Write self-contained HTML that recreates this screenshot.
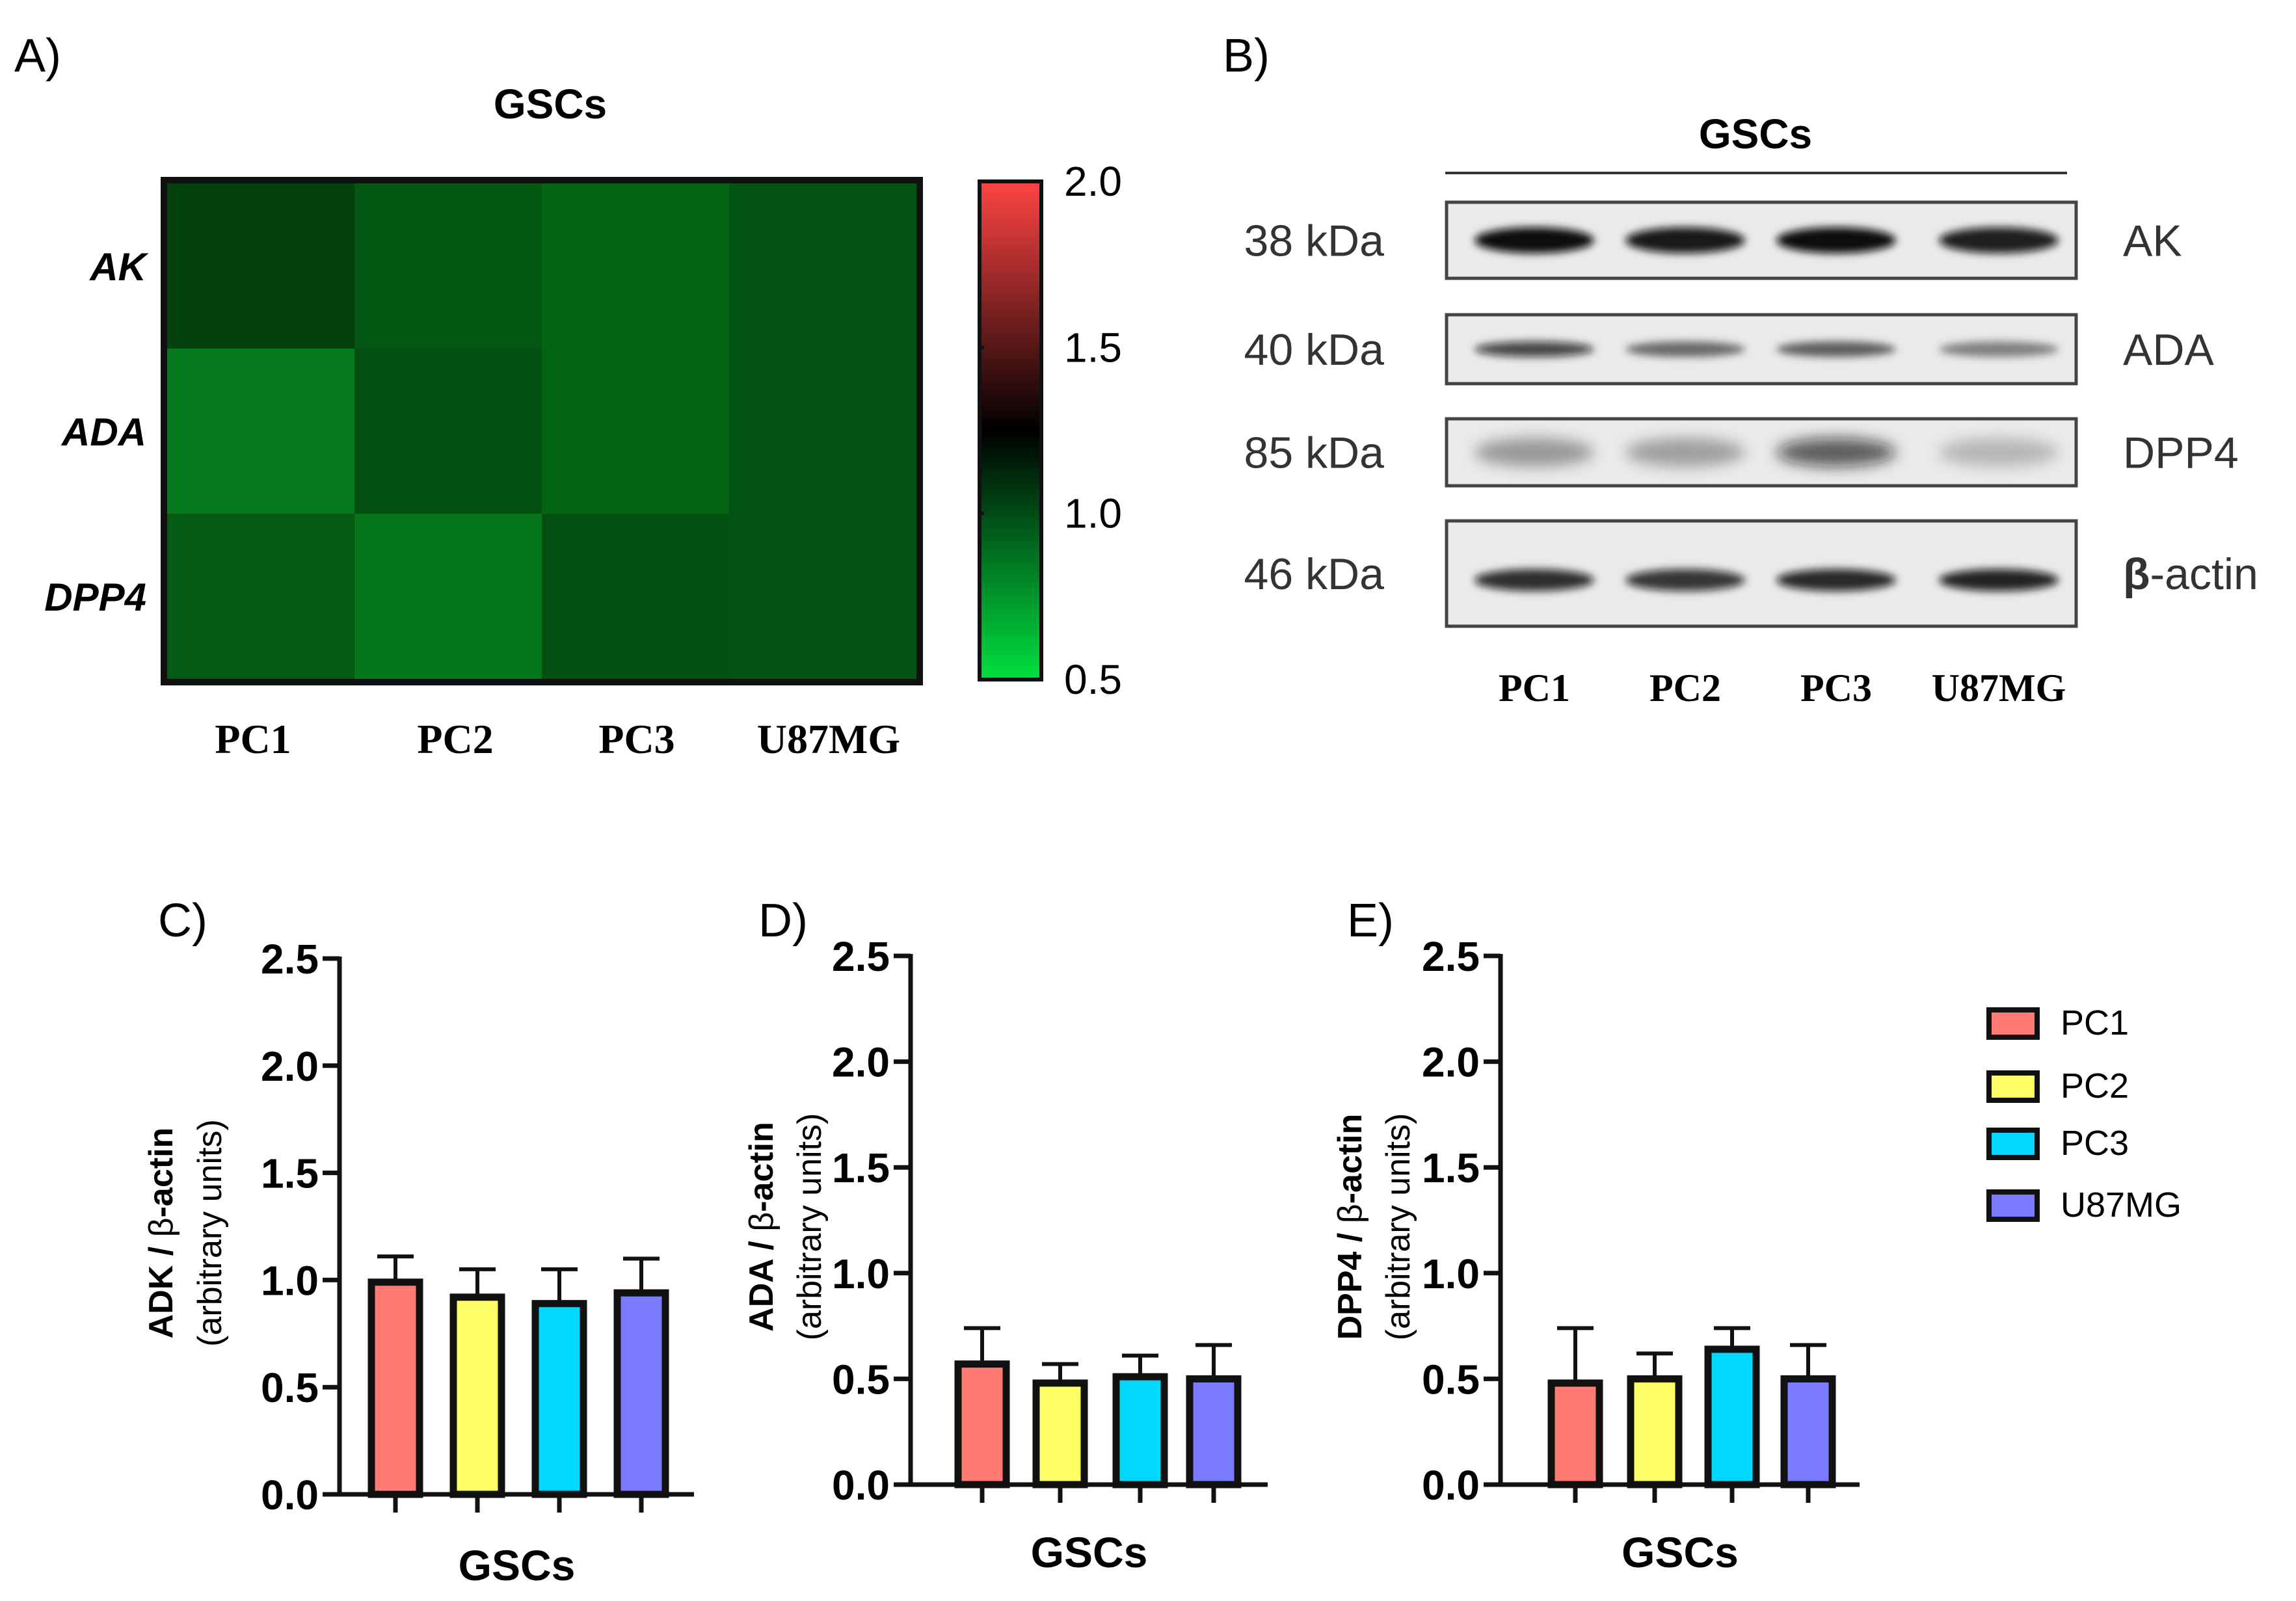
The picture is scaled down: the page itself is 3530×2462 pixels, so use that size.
<!DOCTYPE html>
<html><head><meta charset="utf-8"><style>html,body{margin:0;padding:0;background:#fff}svg{display:block}</style></head>
<body>
<svg id="fig" width="3530" height="2462" viewBox="0 0 3530 2462" xmlns="http://www.w3.org/2000/svg" font-family="Liberation Sans, sans-serif">
<defs>
<linearGradient id="cbar" x1="0" y1="1" x2="0" y2="0">
<stop offset="0" stop-color="#00e040"/><stop offset="0.5" stop-color="#000"/><stop offset="1" stop-color="#f44"/>
</linearGradient>
<filter id="blur" x="-20%" y="-100%" width="140%" height="300%"><feGaussianBlur stdDeviation="6"/></filter>
<filter id="blur2" x="-20%" y="-100%" width="140%" height="300%"><feGaussianBlur stdDeviation="11"/></filter>
</defs>
<g id="panelA">
<text x="22" y="110" font-size="72">A)</text>
<text x="846" y="182" font-size="64" font-weight="bold" text-anchor="middle">GSCs</text>
<g id="hm"></g>
<rect x="252" y="277" width="1162" height="772" fill="none" stroke="#111" stroke-width="10"/>
<rect x="1506" y="279" width="95" height="766" fill="url(#cbar)" stroke="#111" stroke-width="6"/>
<g id="cbticks"></g>
</g>
<g id="panelB">
<text x="1880" y="110" font-size="72">B)</text>
<text x="2699" y="228" font-size="64" font-weight="bold" text-anchor="middle">GSCs</text>
<line x1="2222" y1="266" x2="3178" y2="266" stroke="#333" stroke-width="4"/>
<g id="blot"></g>
</g>
<g id="bars"></g>
<g id="legend"></g>
</svg>
<script>
const NS="http://www.w3.org/2000/svg";
function mk(tag,attrs,parent,text){const e=document.createElementNS(NS,tag);for(const k in attrs)e.setAttribute(k,attrs[k]);if(text!==undefined)e.textContent=text;parent.appendChild(e);return e;}

// ---------- Heatmap data ----------
const hmCols=["PC1","PC2","PC3","U87MG"];
const hmRows=["AK","ADA","DPP4"];
const hmAK=[1.10,1.02,0.97,1.03];
const hmADA=[0.88,1.05,0.97,1.03];
const hmDPP4=[1.01,0.90,1.05,1.03];
const cbTicks=[0.5,1.0,1.5,2.0];

const hmVals=[hmAK,hmADA,hmDPP4];
const hmX0=257,hmY0=282,hmW=1152,hmH=762;
const cw=hmW/hmCols.length,rh=hmH/hmRows.length;
const colLabelX=[389,700,979,1274];
function hmColor(v){
  const t=Math.max(0,Math.min(1,(v-0.5)/1.5));
  let r,g,b;
  if(t<0.5){const s=t/0.5;const f=Math.pow(1-s,0.7);r=8*f;g=200*f;b=45*f;}
  else{const s=(t-0.5)/0.5;r=255*s;g=68*s;b=68*s;}
  return `rgb(${r|0},${g|0},${b|0})`;
}
const hm=document.getElementById('hm');
hmVals.forEach((row,i)=>{
  row.forEach((v,j)=>{
    const c=mk('rect',{x:hmX0+j*cw,y:hmY0+i*rh,width:cw+0.5,height:rh+0.5,fill:hmColor(v)},hm);
    
    
  });
  const t=mk('text',{x:225,y:hmY0+(i+0.5)*rh+22,'font-size':60,'font-weight':'bold','font-style':'italic','text-anchor':'end'},hm,hmRows[i]);
  
  
});
hmCols.forEach((c,j)=>{
  const t=mk('text',{x:colLabelX[j],y:1158,'font-size':64,'font-weight':'bold','font-family':'Liberation Serif, serif','text-anchor':'middle'},hm,c);
  
  
});
const cbt=document.getElementById('cbticks');
const cbY=v=>1045-(v-0.5)/1.5*766;
cbTicks.forEach(v=>{
  const l=mk('line',{x1:1503,x2:1513,y1:cbY(v),y2:cbY(v),stroke:'#111','stroke-width':5},cbt);
  
  
  const t=mk('text',{x:1636,y:cbY(v)+22,'font-size':64},cbt,v.toFixed(1));
  
  
});

// ---------- Western blot ----------
const blotRows=[
 {kda:"38 kDa",name:"AK",y:311,h:117,int:[1,0.95,1,0.92],thick:40},
 {kda:"40 kDa",name:"ADA",y:484,h:106,int:[0.75,0.55,0.6,0.45],thick:24},
 {kda:"85 kDa",name:"DPP4",y:644,h:103,int:[0.35,0.32,0.65,0.22],thick:44},
 {kda:"46 kDa",name:"β-actin",y:801,h:162,int:[0.85,0.82,0.88,0.9],thick:34}];
const laneNames=["PC1","PC2","PC3","U87MG"];
const laneX=[2359,2591,2823,3073];
const blot=document.getElementById('blot');
blotRows.forEach(r=>{
  const g=mk('g',{},blot);
  
  
  mk('rect',{x:2224,y:r.y,width:968,height:r.h,fill:'#eaeaea',stroke:'#444','stroke-width':5},g);
  const cy=r.y+r.h/2+(r.name==="β-actin"?10:0);
  laneX.forEach((x,i)=>{
    const a=r.int[i];
    const e=mk('ellipse',{cx:x,cy:cy,rx:92,ry:r.thick/2,fill:`rgba(10,10,10,${a})`,filter:r.name==="DPP4"?'url(#blur2)':'url(#blur)'},g);
    
    
  });
  const k=mk('text',{x:2128,y:r.y+r.h/2+24,'font-size':68,'text-anchor':'end',fill:'#333'},blot,r.kda);
  
  
  const n=mk('text',{x:3264,y:r.y+r.h/2+24,'font-size':68,fill:'#333'},blot);
  
  
  if(r.name==="β-actin"){mk('tspan',{'font-weight':'bold'},n,'β');mk('tspan',{},n,'-actin');}else n.textContent=r.name;
});
laneNames.forEach((l,i)=>{
  const t=mk('text',{x:laneX[i],y:1078,'font-size':60,'font-weight':'bold','font-family':'Liberation Serif, serif','text-anchor':'middle'},blot,l);
  
  
});

// ---------- Bar charts ----------
const barColors=["#ff7b73","#ffff66","#00d8ff","#7b7bff"];
const yTicks=[0,0.5,1.0,1.5,2.0,2.5];
const adkMeans=[0.99,0.92,0.89,0.94];
const adkErr=[0.12,0.13,0.16,0.16];
const adaMeans=[0.57,0.48,0.51,0.50];
const adaErr=[0.17,0.09,0.10,0.16];
const dppMeans=[0.48,0.50,0.64,0.50];
const dppErr=[0.26,0.12,0.10,0.16];

const charts=[
 {id:'c',label:'C)',prot:'ADK',ax:522,top:1474,zero:2298,xend:1067,bx:[608,734,860,986],m:adkMeans,e:adkErr,lx:243,ly:1440,t1:265,t2:340,gy:2430},
 {id:'d',label:'D)',prot:'ADA',ax:1400,top:1470,zero:2283,xend:1949,bx:[1510,1630,1753,1866],m:adaMeans,e:adaErr,lx:1166,ly:1440,t1:1188,t2:1262,gy:2410},
 {id:'e',label:'E)',prot:'DPP4',ax:2307,top:1470,zero:2283,xend:2859,bx:[2422,2544,2663,2780],m:dppMeans,e:dppErr,lx:2071,ly:1440,t1:2093,t2:2167,gy:2410}];
const bars=document.getElementById('bars');
charts.forEach(c=>{
  const g=mk('g',{},bars);
  
  
  const y=v=>c.zero-(v/2.5)*(c.zero-c.top);
  const pl=mk('text',{x:c.lx,y:c.ly,'font-size':72},g,c.label);
  
  
  c.m.forEach((v,i)=>{
    const x=c.bx[i];
    const top=y(v+c.e[i]);
    const eb=mk('path',{d:`M${x},${y(v)} V${top} M${x-28},${top} H${x+28}`,stroke:'#111','stroke-width':6,fill:'none'},g);
    
    
    const b=mk('rect',{x:x-37,y:y(v),width:74,height:c.zero-y(v),fill:barColors[i],stroke:'#111','stroke-width':11},g);
    
    
    const tk=mk('line',{x1:x,x2:x,y1:c.zero,y2:c.zero+28,stroke:'#111','stroke-width':7},g);
    
    
  });
  const ya=mk('line',{x1:c.ax,x2:c.ax,y1:c.top-3,y2:c.zero+3,stroke:'#111','stroke-width':7},g);
  
  
  const xa=mk('line',{x1:c.ax-3,x2:c.xend,y1:c.zero,y2:c.zero,stroke:'#111','stroke-width':7},g);
  
  
  yTicks.forEach(v=>{
    const l=mk('line',{x1:c.ax-26,x2:c.ax,y1:y(v),y2:y(v),stroke:'#111','stroke-width':7},g);
    
    
    const t=mk('text',{x:c.ax-32,y:y(v)+23,'font-size':64,'font-weight':'bold','text-anchor':'end'},g,v.toFixed(1));
    
    
  });
  const cy=(c.top+c.zero)/2+10;
  const t1=mk('text',{x:c.t1,y:cy,'font-size':52,'text-anchor':'middle',transform:`rotate(-90 ${c.t1} ${cy})`},g);
  
  
  mk('tspan',{'font-weight':'bold'},t1,c.prot+' / ');
  mk('tspan',{},t1,'β');
  mk('tspan',{'font-weight':'bold'},t1,'-actin');
  const t2=mk('text',{x:c.t2,y:cy,'font-size':52,'text-anchor':'middle',transform:`rotate(-90 ${c.t2} ${cy})`},g,'(arbitrary units)');
  
  
  const gx=(c.ax+c.xend)/2;
  const gl=mk('text',{x:gx,y:c.gy,'font-size':66,'font-weight':'bold','text-anchor':'middle'},g,'GSCs');
  
  
});

const legY=[1573,1670,1758,1853];
const leg=document.getElementById('legend');
laneNames.forEach((n,i)=>{
  const r=mk('rect',{x:3058,y:legY[i]-20,width:74,height:42,fill:barColors[i],stroke:'#111','stroke-width':8},leg);
  
  
  const t=mk('text',{x:3168,y:legY[i]+18,'font-size':54},leg,n);
  
  
});
</script>
</body></html>
